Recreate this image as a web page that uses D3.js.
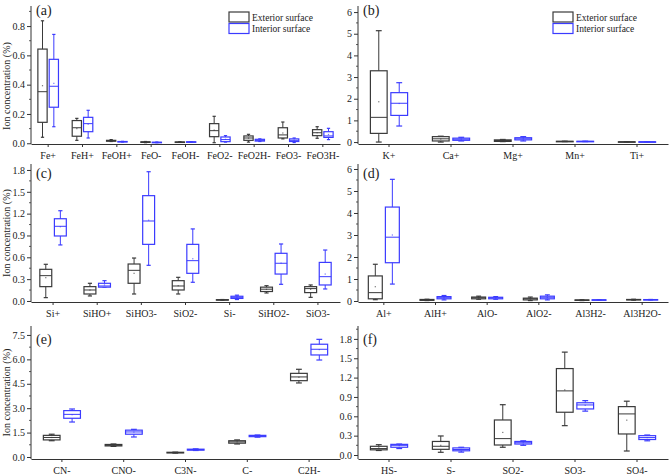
<!DOCTYPE html>
<html><head><meta charset="utf-8">
<script src="https://cdn.jsdelivr.net/npm/d3@7"></script>
<style>body{margin:0;background:#fff}svg{display:block}</style>
</head><body>
<script>
// ---------- DATA ----------  [low, q1, median, q3, high, mean]
const catsA = ["Fe+","FeH+","FeOH+","FeO-","FeOH-","FeO2-","FeO2H-","FeO3-","FeO3H-"];
const extA = [[0.041,0.143,0.352,0.643,0.836,0.393],[0.02,0.048,0.106,0.155,0.17,0.10],[0.012,0.014,0.017,0.02,0.025,0.017],[0.004,0.006,0.008,0.01,0.012,0.008],[0.007,0.008,0.008,0.009,0.01,0.008],[0.004,0.045,0.086,0.134,0.184,0.09],[0.008,0.02,0.036,0.05,0.061,0.035],[0.03,0.036,0.057,0.106,0.145,0.07],[0.034,0.052,0.072,0.093,0.113,0.072]];
const intA = [[0.113,0.246,0.389,0.573,0.743,0.409],[0.036,0.079,0.134,0.177,0.225,0.13],[0.009,0.01,0.011,0.012,0.013,0.011],[0.004,0.005,0.006,0.007,0.008,0.006],[0.007,0.008,0.009,0.01,0.011,0.009],[0.008,0.011,0.025,0.043,0.052,0.027],[0.012,0.015,0.02,0.027,0.03,0.021],[0.005,0.012,0.02,0.03,0.036,0.021],[0.025,0.04,0.05,0.079,0.102,0.06]];
const ticksA = [0.0,0.2,0.4,0.6,0.8];
const domainA = [-0.005,0.937];

const catsB = ["K+","Ca+","Mg+","Mn+","Ti+"];
const extB = [[0.0,0.40,1.14,3.29,5.14,1.86],[0.0,0.05,0.15,0.25,0.27,0.14],[0.02,0.03,0.07,0.10,0.12,0.07],[0.02,0.025,0.03,0.035,0.04,0.03],[0.005,0.008,0.01,0.012,0.015,0.01]];
const intB = [[0.74,1.23,1.79,2.28,2.74,1.78],[0.05,0.08,0.13,0.18,0.22,0.13],[0.05,0.10,0.15,0.20,0.25,0.15],[0.02,0.025,0.03,0.035,0.04,0.03],[0.005,0.008,0.01,0.012,0.015,0.01]];
const ticksB = [0,1,2,3,4,5,6];
const domainB = [-0.09,6.28];

const catsC = ["Si+","SiHO+","SiHO3-","SiO2-","Si-","SiHO2-","SiO3-"];
const extC = [[0.046,0.197,0.348,0.435,0.504,0.32],[0.069,0.096,0.151,0.197,0.243,0.15],[0.096,0.243,0.421,0.508,0.59,0.38],[0.096,0.151,0.206,0.279,0.325,0.21],[0.01,0.012,0.015,0.018,0.02,0.015],[0.11,0.13,0.162,0.19,0.21,0.16],[0.05,0.115,0.17,0.197,0.22,0.16]];
const intC = [[0.77,0.893,1.026,1.13,1.24,1.02],[0.19,0.19,0.206,0.243,0.279,0.22],[0.49,0.778,1.099,1.447,1.776,1.11],[0.257,0.38,0.554,0.778,0.99,0.58],[0.02,0.035,0.05,0.065,0.08,0.05],[0.229,0.37,0.518,0.655,0.783,0.52],[0.165,0.22,0.334,0.53,0.70,0.37]];
const ticksC = [0.0,0.3,0.6,0.9,1.2,1.5,1.8];
const domainC = [-0.014,1.882];

const catsD = ["Al+","AlH+","AlO-","AlO2-","Al3H2-","Al3H2O-"];
const extD = [[0.06,0.10,0.38,1.14,1.67,0.65],[0.02,0.03,0.05,0.07,0.08,0.05],[0.08,0.10,0.15,0.18,0.22,0.14],[0.02,0.05,0.10,0.13,0.18,0.09],[0.02,0.03,0.04,0.05,0.06,0.04],[0.04,0.05,0.06,0.07,0.08,0.06]];
const intD = [[0.77,1.74,2.90,4.27,5.53,3.0],[0.05,0.10,0.15,0.20,0.25,0.15],[0.08,0.10,0.14,0.17,0.20,0.14],[0.05,0.10,0.17,0.22,0.28,0.16],[0.04,0.045,0.05,0.055,0.06,0.05],[0.05,0.055,0.06,0.065,0.07,0.06]];
const ticksD = [0,1,2,3,4,5,6];
const domainD = [-0.045,6.227];

const catsE = ["CN-","CNO-","C3N-","C-","C2H-"];
const extE = [[1.0,1.05,1.2,1.33,1.4,1.2],[0.65,0.68,0.72,0.77,0.8,0.72],[0.24,0.25,0.27,0.29,0.3,0.27],[0.8,0.85,0.93,1.0,1.05,0.93],[4.55,4.69,4.92,5.14,5.39,4.9]];
const intE = [[2.15,2.38,2.62,2.85,2.95,2.6],[1.23,1.40,1.54,1.65,1.70,1.53],[0.4,0.42,0.45,0.48,0.5,0.45],[1.22,1.25,1.3,1.33,1.35,1.3],[5.96,6.27,6.62,6.93,7.23,6.6]];
const ticksE = [0.0,1.5,3.0,4.5,6.0,7.5];
const domainE = [-0.123,8.05];

const catsF = ["HS-","S-","SO2-","SO3-","SO4-"];
const extF = [[0.07,0.08,0.10,0.135,0.16,0.11],[0.042,0.088,0.135,0.21,0.295,0.15],[0.12,0.155,0.254,0.543,0.78,0.35],[0.455,0.663,0.994,1.34,1.595,1.01],[0.062,0.326,0.637,0.75,0.834,0.54]];
const intF = [[0.10,0.12,0.15,0.165,0.17,0.145],[0.045,0.065,0.085,0.11,0.12,0.085],[0.15,0.17,0.19,0.21,0.22,0.19],[0.68,0.714,0.776,0.81,0.843,0.77],[0.22,0.24,0.27,0.30,0.31,0.27]];
const ticksF = [0.0,0.3,0.6,0.9,1.2,1.5,1.8];
const domainF = [-0.062,2.0];

const seriesNames = ["Exterior surface","Interior surface"];
const panelLabels = ["(a)","(b)","(c)","(d)","(e)","(f)"];

// ---------- LAYOUT ----------
const W = 669, H = 475;
const colX = [[31,340],[358,668]];
const rowY = [[6,144],[164,302],[326,459]];
const colors = ["#3a3a3a","#3b3bff"];
const font = "'Liberation Serif','Times New Roman',serif";

const panels = [
  {cats:catsA, ext:extA, int:intA, ticks:ticksA, domain:domainA, col:0, row:0, legend:true, fmt:d3.format(".1f")},
  {cats:catsB, ext:extB, int:intB, ticks:ticksB, domain:domainB, col:1, row:0, legend:true, fmt:d3.format("d")},
  {cats:catsC, ext:extC, int:intC, ticks:ticksC, domain:domainC, col:0, row:1, fmt:d3.format(".1f")},
  {cats:catsD, ext:extD, int:intD, ticks:ticksD, domain:domainD, col:1, row:1, fmt:d3.format("d")},
  {cats:catsE, ext:extE, int:intE, ticks:ticksE, domain:domainE, col:0, row:2, fmt:d3.format(".1f")},
  {cats:catsF, ext:extF, int:intF, ticks:ticksF, domain:domainF, col:1, row:2, fmt:d3.format(".1f")}
];

const svg = d3.select("body").append("svg").attr("width",W).attr("height",H)
  .style("font-family",font);

panels.forEach((p,i)=>{
  const [x0,x1] = colX[p.col], [y0,y1] = rowY[p.row];
  const x = d3.scaleBand().domain(p.cats).range([x0,x1]);
  const y = d3.scaleLinear().domain(p.domain).range([y1,y0]);
  const g = svg.append("g");
  const bw = x.bandwidth();

  // minor ticks
  const step = p.ticks[1]-p.ticks[0];
  const minor = [];
  for(let k=0;k<p.ticks.length;k++){ const v=p.ticks[k]+step/2; if(y(v)>=y0) minor.push(v); }
  g.selectAll(".mn").data(minor).join("line")
    .attr("x1",x0-2).attr("x2",x0).attr("y1",d=>y(d)).attr("y2",d=>y(d))
    .attr("stroke","#333").attr("stroke-width",0.8);

  // y axis
  const ya = d3.axisLeft(y).tickValues(p.ticks).tickFormat(p.fmt).tickSize(4).tickSizeOuter(0);
  const yg = g.append("g").attr("transform",`translate(${x0},0)`).call(ya);
  yg.select(".domain").attr("stroke","#333").attr("d",`M0,${y1}V${y0}`);
  yg.selectAll(".tick line").attr("stroke","#333");
  yg.selectAll("text").attr("font-size",10).attr("font-family",font).attr("fill","#222").attr("x",-6);

  // x axis
  const xa = d3.axisBottom(x).tickSize(3).tickSizeOuter(0);
  const xg = g.append("g").attr("transform",`translate(0,${y1})`).call(xa);
  xg.select(".domain").attr("stroke","#333");
  xg.selectAll(".tick line").attr("stroke","#333");
  xg.selectAll("text").attr("font-size",10).attr("font-family",font).attr("fill","#222").attr("y",8);

  // boxes
  const boxW = bw*0.27, off = bw*0.165, capW = boxW*0.35;
  [p.ext,p.int].forEach((arr,si)=>{
    const c = colors[si];
    const sg = g.append("g");
    const items = arr.map((d,j)=>({d, cx: x(p.cats[j])+bw/2 + (si===0?-off:off)}));
    sg.selectAll(".wh").data(items).join("line")
      .attr("x1",o=>o.cx).attr("x2",o=>o.cx).attr("y1",o=>y(o.d[0])).attr("y2",o=>y(o.d[4]))
      .attr("stroke",c).attr("stroke-width",1);
    sg.selectAll(".capl").data(items).join("line")
      .attr("x1",o=>o.cx-capW/2).attr("x2",o=>o.cx+capW/2).attr("y1",o=>y(o.d[0])).attr("y2",o=>y(o.d[0]))
      .attr("stroke",c).attr("stroke-width",1.2);
    sg.selectAll(".caph").data(items).join("line")
      .attr("x1",o=>o.cx-capW/2).attr("x2",o=>o.cx+capW/2).attr("y1",o=>y(o.d[4])).attr("y2",o=>y(o.d[4]))
      .attr("stroke",c).attr("stroke-width",1.2);
    sg.selectAll(".bx").data(items).join("rect")
      .attr("x",o=>o.cx-boxW/2).attr("width",boxW)
      .attr("y",o=>y(o.d[3])).attr("height",o=>Math.max(0.5,y(o.d[1])-y(o.d[3])))
      .attr("fill","#fff").attr("stroke",c).attr("stroke-width",1.2);
    sg.selectAll(".md").data(items).join("line")
      .attr("x1",o=>o.cx-boxW/2).attr("x2",o=>o.cx+boxW/2).attr("y1",o=>y(o.d[2])).attr("y2",o=>y(o.d[2]))
      .attr("stroke",c).attr("stroke-width",1);
    sg.selectAll(".mn").data(items).join("rect")
      .attr("x",o=>o.cx-0.6).attr("y",o=>y(o.d[5])-0.6).attr("width",1.2).attr("height",1.2)
      .attr("fill",c).attr("opacity",0.7);
  });

  // panel label
  g.append("text").attr("x",x0+5).attr("y",y0+ (p.row===0?9:(p.row===1?14:18)))
    .attr("font-size",14).attr("fill","#222").text(panelLabels[i]);

  // y title
  if(p.col===0){
    const cy = p.row===0 ? 86 : (y0+y1)/2;
    g.append("text").attr("transform",`translate(10,${cy}) rotate(-90)`)
      .attr("text-anchor","middle").attr("font-size",10).attr("fill","#222")
      .text("Ion concentration (%)");
  }

  // legend
  if(p.legend){
    const lx = p.col===0 ? 229 : 553;
    seriesNames.forEach((n,si)=>{
      g.append("rect").attr("x",lx).attr("y",12+si*11.5).attr("width",20).attr("height",10)
        .attr("fill","#fff").attr("stroke",colors[si]).attr("stroke-width",1.2);
      g.append("text").attr("x",lx+23).attr("y",20.5+si*11.5).attr("font-size",9.5).attr("fill","#222").text(n);
    });
  }
});
</script>
</body></html>
